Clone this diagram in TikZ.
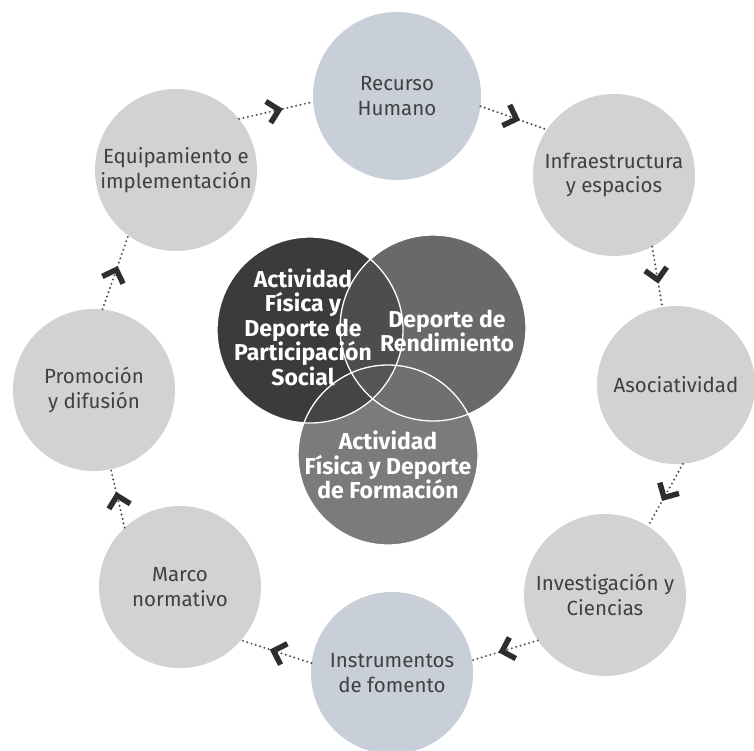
\documentclass[tikz,border=0pt]{standalone}
\usepackage{fontspec}
\setmainfont{Fira Sans}
\usetikzlibrary{arrows.meta,decorations.markings}
\definecolor{ringgray}{HTML}{D2D2D2}
\definecolor{ringblue}{HTML}{C9CFD8}
\definecolor{vdark}{HTML}{3B3B3B}
\definecolor{vright}{HTML}{696969}
\definecolor{vbottom}{HTML}{7B7B7B}
\definecolor{lensdr}{HTML}{4D4D4D}
\definecolor{lensdb}{HTML}{454545}
\definecolor{lensrb}{HTML}{707070}
\definecolor{lensall}{HTML}{555555}
\begin{document}
\begin{tikzpicture}[x=1pt,y=-1pt,
  outer/.style={circle,minimum size=162pt,inner sep=0pt,fill=#1,text=black!75,
    font=\fontsize{20.5}{24.5}\selectfont,align=center},
  vcirc/.style={circle,minimum size=#1,inner sep=0pt},
  vtext/.style={text=white,align=center,font=\bfseries\fontsize{23}{24.5}\selectfont},
  chevron/.style={solid,draw=black!82,line width=5.5pt,line cap=butt,line join=miter},
  conn/.style={draw=black!70,line width=2.2pt,line cap=round,dash pattern=on 0pt off 4.5pt,
    postaction={decorate},
    decoration={markings,mark=at position 0.5 with
      {\draw[chevron] (-8pt,11pt) -- (3pt,0pt) -- (-8pt,-11pt);}}},
]
\useasboundingbox (0,0) rectangle (754,750);
\fill[white] (0,0) rectangle (754,750);

% outer ring
\node[outer=ringblue,minimum size=168pt] (rh) at (397,96) {Recurso\\Humano};
\node[outer=ringgray] (inf) at (614,175) {Infraestructura\\y espacios};
\node[outer=ringgray,minimum size=158pt] (aso) at (676,385) {Asociatividad};
\node[outer=ringgray] (inv) at (605,595) {Investigación y\\Ciencias};
\node[outer=ringblue] (ins) at (392,673) {Instrumentos\\de fomento};
\node[outer=ringgray] (mar) at (180,587) {Marco\\normativo};
\node[outer=ringgray] (pro) at (94,390)  {Promoción\\y difusión};
\node[outer=ringgray] (eq)  at (176,170) {Equipamiento e\\implementación};

\draw[conn] (eq.39) -- (rh.184);
\draw[conn] (rh.-7) -- (inf.146);
\draw[conn] (inf.-62) -- (aso.100);
\draw[conn] (aso.-85) -- (inv.58);
\draw[conn] (inv.214) -- (ins.9);
\draw[conn] (ins.173) -- (mar.-41);
\draw[conn] (mar.133) -- (pro.-78);
\draw[conn] (pro.84) -- (eq.234);

% Venn
\node[vcirc=186pt,fill=vright]  (vr) at (433,328) {};
\node[vcirc=180pt,fill=vbottom] (vb) at (388,455) {};
\node[vcirc=186pt,fill=vdark]   (vd) at (310,330) {};
\begin{scope}
  \clip (310,330) circle (93pt);
  \fill[lensdr] (433,328) circle (93pt);
  \fill[lensdb] (388,455) circle (90pt);
\end{scope}
\begin{scope}
  \clip (433,328) circle (93pt);
  \fill[lensrb] (388,455) circle (90pt);
  \clip (310,330) circle (93pt);
  \fill[lensall] (388,455) circle (90pt);
\end{scope}
\draw[white,line width=1.3pt] (310,330) circle (93pt);
\draw[white,line width=1.3pt] (433,328) circle (93pt);
\draw[white,line width=1.3pt] (388,455) circle (90pt);

\node[vtext] (tdark) at (303,327) {Actividad\\Física y\\Deporte de\\Participación\\Social};
\node[vtext] (trend) at (447,331) {Deporte de\\Rendimiento};
\node[vtext] (tform) at (388,465) {Actividad\\Física y Deporte\\de Formación};
\end{tikzpicture}
\end{document}
